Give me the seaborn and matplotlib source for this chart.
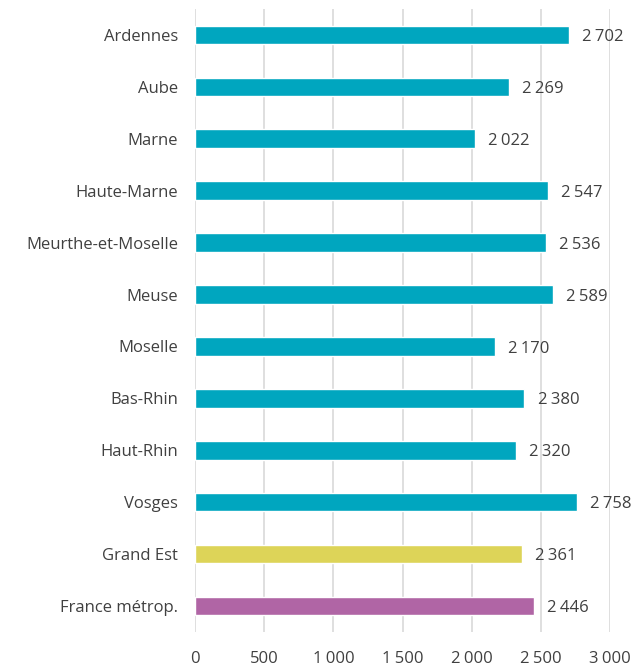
import matplotlib
matplotlib.use("Agg")
import matplotlib.pyplot as plt
import pandas as pd
import seaborn as sns

# data
departements = ["Ardennes", "Aube", "Marne", "Haute-Marne", "Meurthe-et-Moselle",
                "Meuse", "Moselle", "Bas-Rhin", "Haut-Rhin", "Vosges",
                "Grand Est", "France métrop."]
valeurs = [2702, 2269, 2022, 2547, 2536, 2589, 2170, 2380, 2320, 2758, 2361, 2446]
couleurs = ["#00A6BF"] * 10 + ["#DDD458", "#B065A5"]
xticks = [0, 500, 1000, 1500, 2000, 2500, 3000]

def fmt(v):
    return f"{v:,}".replace(",", "\u202f")

sns.set_theme(style="white")
plt.rcParams["font.family"] = ["Open Sans", "DejaVu Sans"]
txt = "#404040"

df = pd.DataFrame({"dep": departements, "val": valeurs})

fig = plt.figure(figsize=(6.39, 6.68), dpi=100)
ax = fig.add_axes([0.305, 0.054, 0.65, 0.9325])

sns.barplot(data=df, y="dep", x="val", hue="dep", palette=couleurs,
            legend=False, width=0.36, ax=ax, saturation=1, zorder=3)

for i, v in enumerate(valeurs):
    ax.text(v + 95, i + 0.04, fmt(v), va="center", ha="left", fontsize=12, color=txt)

ax.set_xlim(0, 3000)
ax.set_ylim(len(departements) - 0.5, -0.5)
ax.set_xticks(xticks)
ax.set_xticklabels([fmt(t) for t in xticks], fontsize=12, color=txt)
ax.set_yticklabels(departements, fontsize=12, color=txt)
ax.tick_params(axis="x", pad=14, length=0)
ax.tick_params(axis="y", pad=12, length=0)
ax.xaxis.grid(True, color="#D9D9D9", linewidth=1.2, zorder=0)
ax.set_axisbelow(True)
for s in ax.spines.values():
    s.set_visible(False)
ax.set_xlabel("")
ax.set_ylabel("")

fig.savefig("out.png", dpi=100)
